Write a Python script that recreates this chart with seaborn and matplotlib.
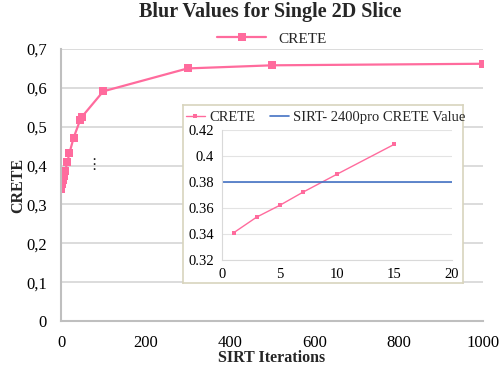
import matplotlib
matplotlib.use("Agg")
import matplotlib.pyplot as plt
import seaborn as sns
import pandas as pd

# ---- data ----
iterations = [1, 3, 5, 7, 10, 15, 20, 30, 45, 50, 100, 300, 500, 1000]
crete = [0.341, 0.353, 0.362, 0.372, 0.386, 0.409, 0.432, 0.472, 0.516, 0.526,
         0.591, 0.650, 0.658, 0.662]
inset_iter = [1, 3, 5, 7, 10, 15]
inset_crete = [0.341, 0.353, 0.362, 0.372, 0.386, 0.409]
sirt_2400_value = 0.3803
main_yticks = [0, 0.1, 0.2, 0.3, 0.4, 0.5, 0.6, 0.7]
main_ylabels = ["0", "0,1", "0,2", "0,3", "0,4", "0,5", "0,6", "0,7"]
main_xticks = [0, 200, 400, 600, 800, 1000]
inset_yticks = [0.32, 0.34, 0.36, 0.38, 0.40, 0.42]
inset_ylabels = ["0.32", "0.34", "0.36", "0.38", "0.4", "0.42"]
inset_xticks = [0, 5, 10, 15, 20]

sns.set_theme(style="white")
plt.rcParams["font.family"] = ["Liberation Serif", "DejaVu Serif"]

pink = "#ff6b9d"
blue = "#4472c4"
grid = "#d9d9d9"

fig = plt.figure(figsize=(5.0, 3.67), dpi=100)
ax = fig.add_axes([0.122, 0.1253, 0.844, 0.7412])

df = pd.DataFrame({"SIRT Iterations": iterations, "CRETE": crete})
sns.lineplot(data=df, x="SIRT Iterations", y="CRETE", ax=ax, color=pink,
             marker="s", markersize=6, markeredgewidth=0, linewidth=1.6,
             label="CRETE")
ax.set_xlim(0, 1000)
ax.set_ylim(0, 0.7)
ax.set_yticks(main_yticks)
ax.set_yticklabels(main_ylabels)
ax.set_xticks(main_xticks)
ax.tick_params(axis="y", labelsize=12, length=0, pad=10, colors="black")
ax.tick_params(axis="x", labelsize=12, length=0, pad=10, colors="black")
ax.yaxis.grid(True, color=grid, linewidth=1.3)
ax.set_axisbelow(True)
for s in ["top", "right"]:
    ax.spines[s].set_visible(False)
for s in ["left", "bottom"]:
    ax.spines[s].set_color("#bfbfbf")
    ax.spines[s].set_linewidth(1.5)
ax.set_xlabel("SIRT Iterations", fontsize=11.5, fontweight="bold", labelpad=-1)
ax.set_ylabel("CRETE", fontsize=11.5, fontweight="bold", labelpad=0)
leg = ax.legend(loc="lower center", bbox_to_anchor=(0.5, 0.99), frameon=False,
                fontsize=11, handlelength=3.2, borderaxespad=0)
ax.text(78, 0.404, "\u22ee", fontsize=11, ha="center", va="center",
        family=["DejaVu Sans"])
fig.suptitle("Blur Values for Single 2D Slice", fontsize=14.5, fontweight="bold",
             x=0.54, y=0.995)

# inset frame
frame = fig.add_axes([0.366, 0.2289, 0.56, 0.485])
frame.set_xticks([])
frame.set_yticks([])
frame.set_facecolor("white")
for s in frame.spines.values():
    s.set_color("#d8d4bd")
    s.set_linewidth(1.2)

inset = fig.add_axes([0.4446, 0.2916, 0.4588, 0.3542])
idf = pd.DataFrame({"x": inset_iter, "y": inset_crete})
sns.lineplot(data=idf, x="x", y="y", ax=inset, color=pink, marker="s",
             markersize=2.5, markeredgewidth=0, linewidth=1.0, label="CRETE")
inset.axhline(sirt_2400_value, color=blue, linewidth=1.2,
              label="SIRT- 2400pro CRETE Value")
inset.set_xlim(0, 20)
inset.set_ylim(0.32, 0.42)
inset.set_xticks(inset_xticks)
inset.set_yticks(inset_yticks)
inset.set_yticklabels(inset_ylabels)
inset.tick_params(axis="both", labelsize=10.5, length=0, pad=6, colors="black")
inset.yaxis.grid(True, color="#e3e3e3", linewidth=0.8)
inset.set_axisbelow(True)
inset.set_xlabel("")
inset.set_ylabel("")
for s in ["top", "right"]:
    inset.spines[s].set_visible(False)
for s in ["left", "bottom"]:
    inset.spines[s].set_color("#d9d9d9")
    inset.spines[s].set_linewidth(0.8)
inset.legend(loc="lower center", bbox_to_anchor=(0.45, 1.0), ncol=2,
             frameon=False, fontsize=10.5, handlelength=1.3, columnspacing=1.0,
             handletextpad=0.3, borderaxespad=0)

fig.savefig("out.png", dpi=100)
